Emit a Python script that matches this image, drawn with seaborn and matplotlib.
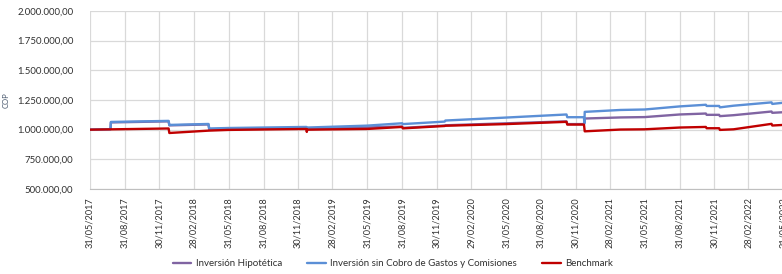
import matplotlib
matplotlib.use("Agg")
import matplotlib.pyplot as plt
import matplotlib.dates as mdates
from matplotlib.ticker import FuncFormatter
import numpy as np
import pandas as pd
import seaborn as sns

# Fechas y valores (COP)
fechas_hip = ["2017-05-31", "2017-07-24", "2017-07-25", "2017-12-24", "2017-12-26",
              "2018-04-08", "2018-04-10", "2018-12-22", "2018-12-24", "2019-08-31",
              "2019-09-02", "2019-12-21", "2019-12-23", "2020-11-06", "2020-11-08",
              "2020-12-22", "2020-12-24", "2021-03-28", "2021-05-31", "2021-08-31",
              "2021-11-08", "2021-11-10", "2021-12-13", "2021-12-15", "2022-01-20",
              "2022-04-30", "2022-05-02", "2022-05-31"]
valores_hip = [1000000, 1004000, 1061000, 1070000, 1036000,
               1044000, 1004000, 1010000, 1004000, 1027000,
               1015000, 1035000, 1037000, 1070000, 1047000,
               1047000, 1094000, 1103000, 1106000, 1128000,
               1136000, 1125000, 1125000, 1114000, 1122000,
               1153000, 1142000, 1147000]

fechas_sin = ["2017-05-31", "2017-07-24", "2017-07-25", "2017-12-24", "2017-12-26",
              "2018-04-08", "2018-04-10", "2018-05-31", "2018-12-22", "2018-12-24",
              "2019-05-31", "2019-08-31", "2019-09-02", "2019-12-21", "2019-12-23",
              "2020-05-31", "2020-11-06", "2020-11-08", "2020-12-22", "2020-12-23",
              "2020-12-24", "2021-03-28", "2021-05-31", "2021-08-31", "2021-11-08",
              "2021-11-10", "2021-12-13", "2021-12-15", "2022-01-20", "2022-04-30",
              "2022-05-02", "2022-05-31"]
valores_sin = [1000000, 1004000, 1065000, 1074000, 1040000,
               1048000, 1010000, 1014000, 1023000, 1018000,
               1034000, 1054000, 1047000, 1068000, 1077000,
               1102000, 1128000, 1105000, 1105000, 1052000,
               1150000, 1166000, 1170000, 1196000, 1210000,
               1200000, 1200000, 1188000, 1202000, 1230000,
               1217000, 1227000]

fechas_bench = ["2017-05-31", "2017-12-24", "2017-12-26", "2018-04-09", "2018-05-31",
                "2018-12-22", "2018-12-23", "2018-12-24", "2019-05-31", "2019-08-31",
                "2019-09-02", "2019-12-21", "2019-12-23", "2020-05-31", "2020-11-06",
                "2020-11-08", "2020-12-22", "2020-12-24", "2021-03-28", "2021-05-31",
                "2021-08-31", "2021-11-08", "2021-11-10", "2021-12-13", "2021-12-15",
                "2022-01-20", "2022-04-30", "2022-05-02", "2022-05-31"]
valores_bench = [1000000, 1010000, 972000, 992000, 998000,
                 1006000, 981000, 1000000, 1006000, 1023000,
                 1011000, 1031000, 1033000, 1047000, 1066000,
                 1043000, 1043000, 986000, 1001000, 1003000,
                 1018000, 1023000, 1012000, 1012000, 998000,
                 1003000, 1049000, 1035000, 1040000]

series = ["Inversión Hipotética", "Inversión sin Cobro de Gastos y Comisiones", "Benchmark"]
colores = ["#8064a2", "#5b8fd6", "#c00000"]

df = pd.concat([
    pd.DataFrame({"fecha": pd.to_datetime(fechas_hip), "valor": valores_hip, "serie": series[0]}),
    pd.DataFrame({"fecha": pd.to_datetime(fechas_sin), "valor": valores_sin, "serie": series[1]}),
    pd.DataFrame({"fecha": pd.to_datetime(fechas_bench), "valor": valores_bench, "serie": series[2]}),
])

sns.set_style("white")
plt.rcParams["font.family"] = ["Lato", "DejaVu Sans"]

fig = plt.figure(figsize=(7.82, 2.74), dpi=100)
ax = fig.add_axes([90 / 782, 85 / 274, 693.3 / 782, 178 / 274])

sns.lineplot(data=df, x="fecha", y="valor", hue="serie", hue_order=series,
             palette=colores, estimator=None, sort=False, linewidth=1.7, ax=ax, legend=False)

ax.set_ylim(500000, 2000000)
ax.set_yticks(np.arange(500000, 2000001, 250000))
ax.yaxis.set_major_formatter(FuncFormatter(
    lambda v, p: "{:,.2f}".format(v).replace(",", "X").replace(".", ",").replace("X", ".")))

ticks = pd.date_range("2017-05-31", "2022-05-31", freq="3ME")
ax.set_xlim(pd.Timestamp("2017-05-31"), pd.Timestamp("2022-05-31"))
ax.set_xticks(ticks)
ax.xaxis.set_major_formatter(mdates.DateFormatter("%d/%m/%Y"))
plt.setp(ax.get_xticklabels(), rotation=90)

ax.grid(True, color="#d9d9d9", linewidth=0.9)
ax.set_axisbelow(True)
for s in ["top", "right", "left"]:
    ax.spines[s].set_visible(False)
ax.spines["bottom"].set_color("#bfbfbf")
ax.tick_params(axis="x", length=4, color="#bfbfbf", labelsize=6.6, pad=2, labelcolor="#303030")
ax.tick_params(axis="y", length=0, labelsize=6.9, pad=12, labelcolor="#303030")
ax.set_xlabel("")
ax.set_ylabel("COP", fontsize=5.5, color="#44546a")
ax.yaxis.set_label_coords(-80 / 693.3, 0.5)

handles = [plt.Line2D([], [], color=c, linewidth=1.7) for c in colores]
fig.legend(handles, series, loc="lower center", bbox_to_anchor=(393 / 782, -0.01),
           ncol=3, frameon=False, fontsize=7, handlelength=1.9, columnspacing=2.6,
           handletextpad=0.45, labelcolor="#303030")

fig.savefig("out.png", dpi=100)
